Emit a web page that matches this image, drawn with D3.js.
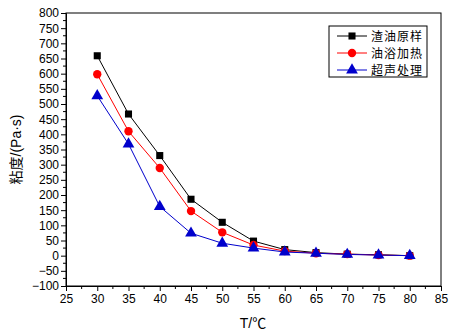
<!DOCTYPE html>
<html><head><meta charset="utf-8">
<script src="https://cdn.jsdelivr.net/npm/d3@7"></script>
<style>body{margin:0;background:#fff}svg{display:block}text{font-family:Arial,"Liberation Sans","Noto Sans CJK SC",sans-serif}</style>
</head><body>
<script>
const temps = [30,35,40,45,50,55,60,65,70,75,80];
const seriesNames = ["渣油原样","油浴加热","超声处理"];
const rawOil = [659,467,330,186,110,48,20,10,5,3,0];
const oilBath = [598,410,289,147,77,35,15,8,5,2,0];
const ultrasonic = [527,368,162,74,41,25,12,8,4,2,0];
const xTicks = [25,30,35,40,45,50,55,60,65,70,75,80,85];
const yTicks = d3.range(-100, 801, 50);
const colors = ["#000000","#ff0000","#0000cc"];
const markers = [d3.symbolSquare, d3.symbolCircle, d3.symbolTriangle];
const markerSizes = [50, 55, 60];

const W=459,H=335;
const L=66,R=441,T=13,B=286;
const svg=d3.select("body").append("svg").attr("width",W).attr("height",H);
const x=d3.scaleLinear().domain([25,85]).range([L,R]);
const y=d3.scaleLinear().domain([-100,800]).range([B,T]);

// frame
svg.append("rect").attr("x",L).attr("y",T).attr("width",R-L).attr("height",B-T)
  .attr("fill","none").attr("stroke","#000").attr("stroke-width",1);

// axes
const xAxis=d3.axisBottom(x).tickValues(xTicks).tickSize(5).tickPadding(3).tickFormat(d3.format("d"));
const gx=svg.append("g").attr("transform",`translate(0,${B})`).call(xAxis);
gx.append("g").selectAll("line").data(d3.range(27.5,85,5)).join("line")
  .attr("x1",d=>x(d)).attr("x2",d=>x(d)).attr("y1",0).attr("y2",3).attr("stroke","#000");
const yAxis=d3.axisLeft(y).tickValues(yTicks).tickSize(5).tickPadding(2).tickFormat(d3.format("d"));
const gy=svg.append("g").attr("transform",`translate(${L},0)`).call(yAxis);
gy.append("g").selectAll("line").data(d3.range(-75,800,50)).join("line")
  .attr("y1",d=>y(d)).attr("y2",d=>y(d)).attr("x1",0).attr("x2",-3).attr("stroke","#000");
[gx,gy].forEach(g=>{g.select(".domain").attr("stroke","#000");g.selectAll("text").attr("font-size",12).attr("fill","#000").attr("font-family","Arial,'Liberation Sans',sans-serif");});

// labels
svg.append("text").attr("x",253).attr("y",328).attr("text-anchor","middle").attr("font-size",14).text("T/℃");
svg.append("text").attr("transform",`translate(21,${(T+B)/2}) rotate(-90)`).attr("text-anchor","middle")
  .attr("font-size",14).text("粘度/(Pa·s)");

const all=[rawOil,oilBath,ultrasonic];
const line=d3.line().x((d,i)=>x(temps[i])).y(d=>y(d));
all.forEach((vals,k)=>{
  svg.append("path").datum(vals).attr("d",line).attr("fill","none").attr("stroke",colors[k]).attr("stroke-width",1);
});
all.forEach((vals,k)=>{
  svg.append("g").selectAll("path").data(vals).join("path")
    .attr("transform",(d,i)=>`translate(${x(temps[i])},${y(d)})`)
    .attr("d",d3.symbol().type(markers[k]).size(markerSizes[k])).attr("fill",colors[k]);
});

// legend
const lg=svg.append("g");
lg.append("rect").attr("x",329).attr("y",26).attr("width",98).attr("height",51).attr("fill","#fff").attr("stroke","#000");
seriesNames.forEach((n,k)=>{
  const yy=36+k*17;
  lg.append("line").attr("x1",337).attr("x2",367).attr("y1",yy).attr("y2",yy).attr("stroke",colors[k]);
  lg.append("path").attr("transform",`translate(352,${yy})`).attr("d",d3.symbol().type(markers[k]).size(markerSizes[k])).attr("fill",colors[k]);
  lg.append("text").attr("x",371).attr("y",yy+4.5).attr("font-size",12).attr("letter-spacing",1).text(n);
});
</script>
</body></html>
